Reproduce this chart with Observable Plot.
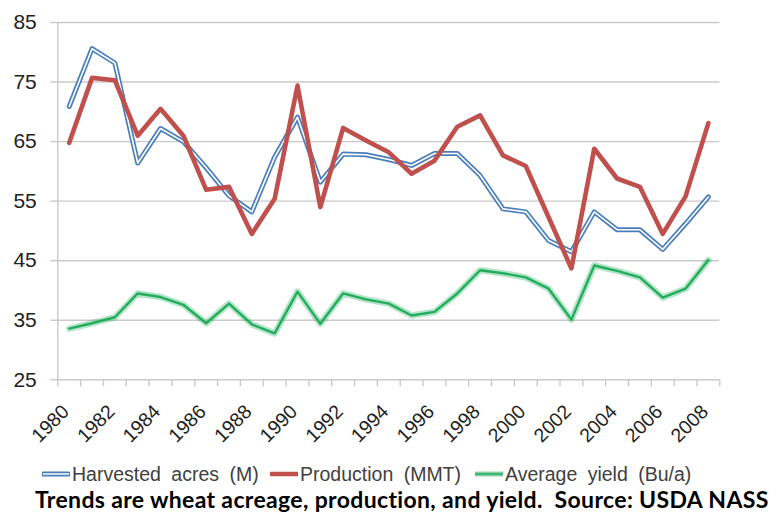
<!DOCTYPE html>
<html>
<head>
<meta charset="utf-8">
<script src="https://cdn.jsdelivr.net/npm/d3@7"></script>
<script src="https://cdn.jsdelivr.net/npm/@observablehq/plot@0.6"></script>
<style>
  html, body { margin: 0; padding: 0; background: #fff; }
  #wrap { position: relative; width: 776px; height: 514px; overflow: hidden; font-family: "Liberation Sans", Arial, sans-serif; }
  #chart { position: absolute; left: 0; top: 0; }
  .item { position: absolute; top: 463.5px; height: 20px; display: flex; align-items: center; font-size: 19.5px; color: #404040; white-space: pre; word-spacing: 5px; line-height: 20px; }
  #caption { position: absolute; left: 35px; top: 488px; height: 22px; font-family: Lato, "Open Sans", sans-serif; font-weight: bold; font-size: 23px; color: #000; white-space: pre; line-height: 22px; letter-spacing: 0.35px; }
</style>
</head>
<body>
<div id="wrap">
  <div id="chart"></div>
  <div id="legend"></div>
  <div id="caption"></div>
</div>
<script>
const years = [1980,1981,1982,1983,1984,1985,1986,1987,1988,1989,1990,1991,1992,1993,1994,1995,1996,1997,1998,1999,2000,2001,2002,2003,2004,2005,2006,2007,2008];
const acres = [70.9,80.6,78.2,61.4,67.2,65.0,60.6,55.9,53.2,62.4,69.1,58.2,62.9,62.8,62.0,61.0,63.0,63.0,59.3,53.7,53.2,48.4,46.5,53.2,50.2,50.2,46.9,51.2,55.7];
const production = [64.8,75.7,75.3,66.0,70.5,66.0,56.9,57.4,49.5,55.4,74.4,54.0,67.3,65.2,63.2,59.6,61.8,67.5,69.4,62.7,60.9,52.3,43.7,63.8,58.8,57.4,49.5,55.8,68.1];
const yieldBu = [33.6,34.5,35.5,39.5,38.9,37.6,34.5,37.8,34.3,32.8,39.8,34.4,39.5,38.5,37.8,35.8,36.4,39.5,43.4,42.9,42.2,40.3,35.1,44.2,43.3,42.2,38.8,40.3,45.1];
const yTicks = [25,35,45,55,65,75,85];
const xLabelYears = [1980,1982,1984,1986,1988,1990,1992,1994,1996,1998,2000,2002,2004,2006,2008];
const seriesNames = ["Harvested acres (M)", "Production (MMT)", "Average yield (Bu/a)"];
const captionText = "Trends are wheat acreage, production, and yield.  Source: USDA NASS";

const data = years.map((y, i) => ({year: y, acres: acres[i], production: production[i], yieldBu: yieldBu[i]}));
const bounds = years.map(y => y - 0.5).concat([years[years.length - 1] + 0.5]);

const gridColor = "#c9c9c9";
const blue = "#4a7ebb", red = "#c0504d", green = "#2bb366";

const chart = Plot.plot({
  width: 776,
  height: 452,
  marginTop: 22,
  marginBottom: 72.7,
  marginLeft: 57.3,
  marginRight: 56.7,
  x: {type: "linear", domain: [bounds[0], bounds[bounds.length - 1]]},
  y: {domain: [25, 85]},
  style: {fontFamily: "Liberation Sans, Arial, sans-serif", background: "#fff"},
  marks: [
    Plot.gridY(yTicks, {stroke: gridColor, strokeOpacity: 1, strokeWidth: 1.4}),
    Plot.axisY(yTicks, {tickSize: 7, tickPadding: 14, stroke: gridColor, strokeWidth: 1.4, fontSize: 21, fill: "#222", label: null}),
    Plot.ruleX([bounds[0]], {stroke: gridColor, strokeWidth: 1.4}),
    Plot.axisX(bounds, {tickSize: 7, stroke: gridColor, strokeWidth: 1.4, tickFormat: () => "", label: null}),
    Plot.text(xLabelYears, {x: d => d, text: d => String(d), frameAnchor: "bottom", dy: 33, dx: 1, rotate: -45, textAnchor: "end", fontSize: 19.5, fill: "#222"}),
    Plot.line(data, {x: "year", y: "acres", stroke: blue, strokeWidth: 5, strokeLinejoin: "round"}),
    Plot.line(data, {x: "year", y: "acres", stroke: "#fff", strokeWidth: 1.6, strokeLinejoin: "round"}),
    Plot.line(data, {x: "year", y: "production", stroke: red, strokeWidth: 4.6, strokeLinejoin: "round"}),
    Plot.line(data, {x: "year", y: "yieldBu", stroke: green, strokeOpacity: 0.35, strokeWidth: 6.5, strokeLinejoin: "round"}),
    Plot.line(data, {x: "year", y: "yieldBu", stroke: "#22ad5c", strokeWidth: 2.4, strokeLinejoin: "round"})
  ]
});
document.getElementById("chart").appendChild(chart);

// legend
const legend = document.getElementById("legend");
const legendLeft = [42, 270, 475];
const swatches = [
  `<svg width="28" height="8"><line x1="1" y1="4" x2="27" y2="4" stroke="${blue}" stroke-width="5" stroke-linecap="round"/><line x1="1" y1="4" x2="27" y2="4" stroke="#dfe8f3" stroke-width="1.8"/></svg>`,
  `<svg width="28" height="8"><line x1="0" y1="4" x2="28" y2="4" stroke="${red}" stroke-width="4.5"/></svg>`,
  `<svg width="28" height="8"><line x1="0" y1="4" x2="28" y2="4" stroke="${green}" stroke-opacity="0.5" stroke-width="5"/><line x1="0" y1="4" x2="28" y2="4" stroke="#3cb873" stroke-width="2.4"/></svg>`
];
seriesNames.forEach((n, i) => {
  const it = document.createElement("div");
  it.className = "item";
  it.style.left = legendLeft[i] + "px";
  it.innerHTML = swatches[i] + `<span style="margin-left:2px">${n}</span>`;
  legend.appendChild(it);
});
document.getElementById("caption").textContent = captionText;
</script>
</body>
</html>
